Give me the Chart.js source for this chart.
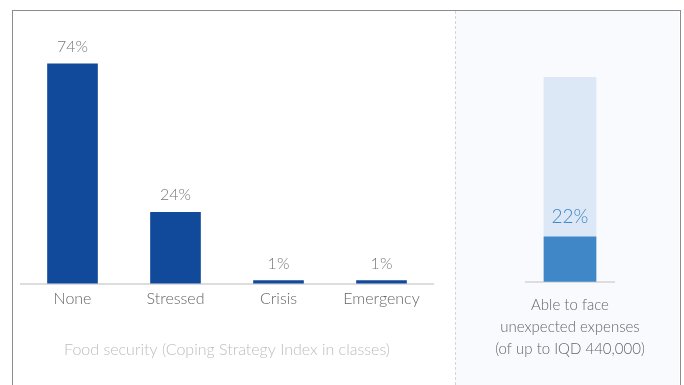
<!DOCTYPE html>
<html>
<head>
<meta charset="utf-8">
<script src="https://cdn.jsdelivr.net/npm/chart.js@4/dist/chart.umd.min.js"></script>
<style>
  html, body { margin: 0; padding: 0; background: #ffffff; }
  body { width: 684px; height: 385px; position: relative; overflow: hidden; }
  #frame {
    position: absolute; left: 12px; top: 10px; width: 667px; height: 380px;
    border-top: 1px solid #8c8c8c; border-left: 1px solid #8c8c8c; border-right: 1px solid #8c8c8c;
  }
  #panel {
    position: absolute; left: 456px; top: 11px; width: 223px; height: 374px;
    background: #f8fafd;
  }
  #divider {
    position: absolute; left: 455px; top: 11px; width: 0; height: 374px;
    border-left: 1px dashed #d4d4d4;
  }
  #cLeft { position: absolute; left: 0; top: 0; }
  #cRight { position: absolute; left: 456px; top: 0; }
</style>
</head>
<body>
<div id="panel"></div>
<div id="divider"></div>
<div id="frame"></div>
<canvas id="cLeft" width="455" height="385"></canvas>
<canvas id="cRight" width="228" height="385"></canvas>
<script>
// Food security classes (Coping Strategy Index)
const cslCategories = ['None', 'Stressed', 'Crisis', 'Emergency'];
const cslShares = [74, 24, 1, 1];
const cslTitle = 'Food security (Coping Strategy Index in classes)';

// Ability to face unexpected expenses
const expenseCategory = [['Able to face', 'unexpected expenses', '(of up to IQD 440,000)']];
const expenseShare = [22];
const expenseTotal = [100];

const FONT = "Lato, 'Open Sans', sans-serif";

// Draws "NN%" labels above the bars of the chosen dataset
const valueLabels = {
  id: 'valueLabels',
  afterDatasetsDraw(chart, args, opts) {
    const ctx = chart.ctx;
    const meta = chart.getDatasetMeta(opts.datasetIndex);
    const data = chart.data.datasets[opts.datasetIndex].data;
    ctx.save();
    ctx.font = opts.font;
    ctx.fillStyle = opts.color;
    ctx.textAlign = 'center';
    ctx.textBaseline = 'middle';
    meta.data.forEach((bar, i) => {
      ctx.fillText(data[i] + '%', bar.x, bar.y - opts.offset);
    });
    ctx.restore();
  }
};

new Chart(document.getElementById('cLeft'), {
  type: 'bar',
  data: {
    labels: cslCategories,
    datasets: [{
      data: cslShares,
      backgroundColor: '#124a9b',
      barThickness: 50
    }]
  },
  options: {
    responsive: false,
    animation: false,
    events: [],
    layout: { padding: { left: 21, right: 22, top: 46, bottom: 26 } },
    plugins: {
      legend: { display: false },
      tooltip: { enabled: false },
      valueLabels: { datasetIndex: 0, font: '300 16px ' + FONT, color: '#787878', offset: 17 }
    },
    scales: {
      x: {
        grid: { display: false, drawTicks: false },
        border: { display: true, color: '#dddddd', width: 2 },
        ticks: { color: '#666666', font: { family: FONT, size: 16, weight: '300' }, padding: 6, maxRotation: 0 },
        title: {
          display: true, text: cslTitle, color: '#bdbdbd',
          font: { family: FONT, size: 16, weight: '300' },
          padding: { top: 25, bottom: 0 }
        }
      },
      y: { display: false, min: 0, max: 80 }
    }
  },
  plugins: [valueLabels]
});

new Chart(document.getElementById('cRight'), {
  type: 'bar',
  data: {
    labels: expenseCategory,
    datasets: [
      {
        data: expenseShare,
        backgroundColor: '#3f87c6',
        barThickness: 52,
        grouped: false,
        order: 0
      },
      {
        data: expenseTotal,
        backgroundColor: '#dce8f5',
        barThickness: 52,
        grouped: false,
        order: 1
      }
    ]
  },
  options: {
    responsive: false,
    animation: false,
    events: [],
    layout: { padding: { left: 61, right: 63, top: 77, bottom: 13 } },
    plugins: {
      legend: { display: false },
      tooltip: { enabled: false },
      valueLabels: { datasetIndex: 0, font: '300 19px ' + FONT, color: '#3f87c8', offset: 20 }
    },
    scales: {
      x: {
        grid: { display: false, drawTicks: false },
        border: { display: true, color: '#dddddd', width: 2 },
        ticks: { color: '#666666', font: { family: FONT, size: 15, weight: '300', lineHeight: 1.47 }, padding: 12, maxRotation: 0 }
      },
      y: { display: false, min: 0, max: 100 }
    }
  },
  plugins: [valueLabels]
});
</script>
</body>
</html>
